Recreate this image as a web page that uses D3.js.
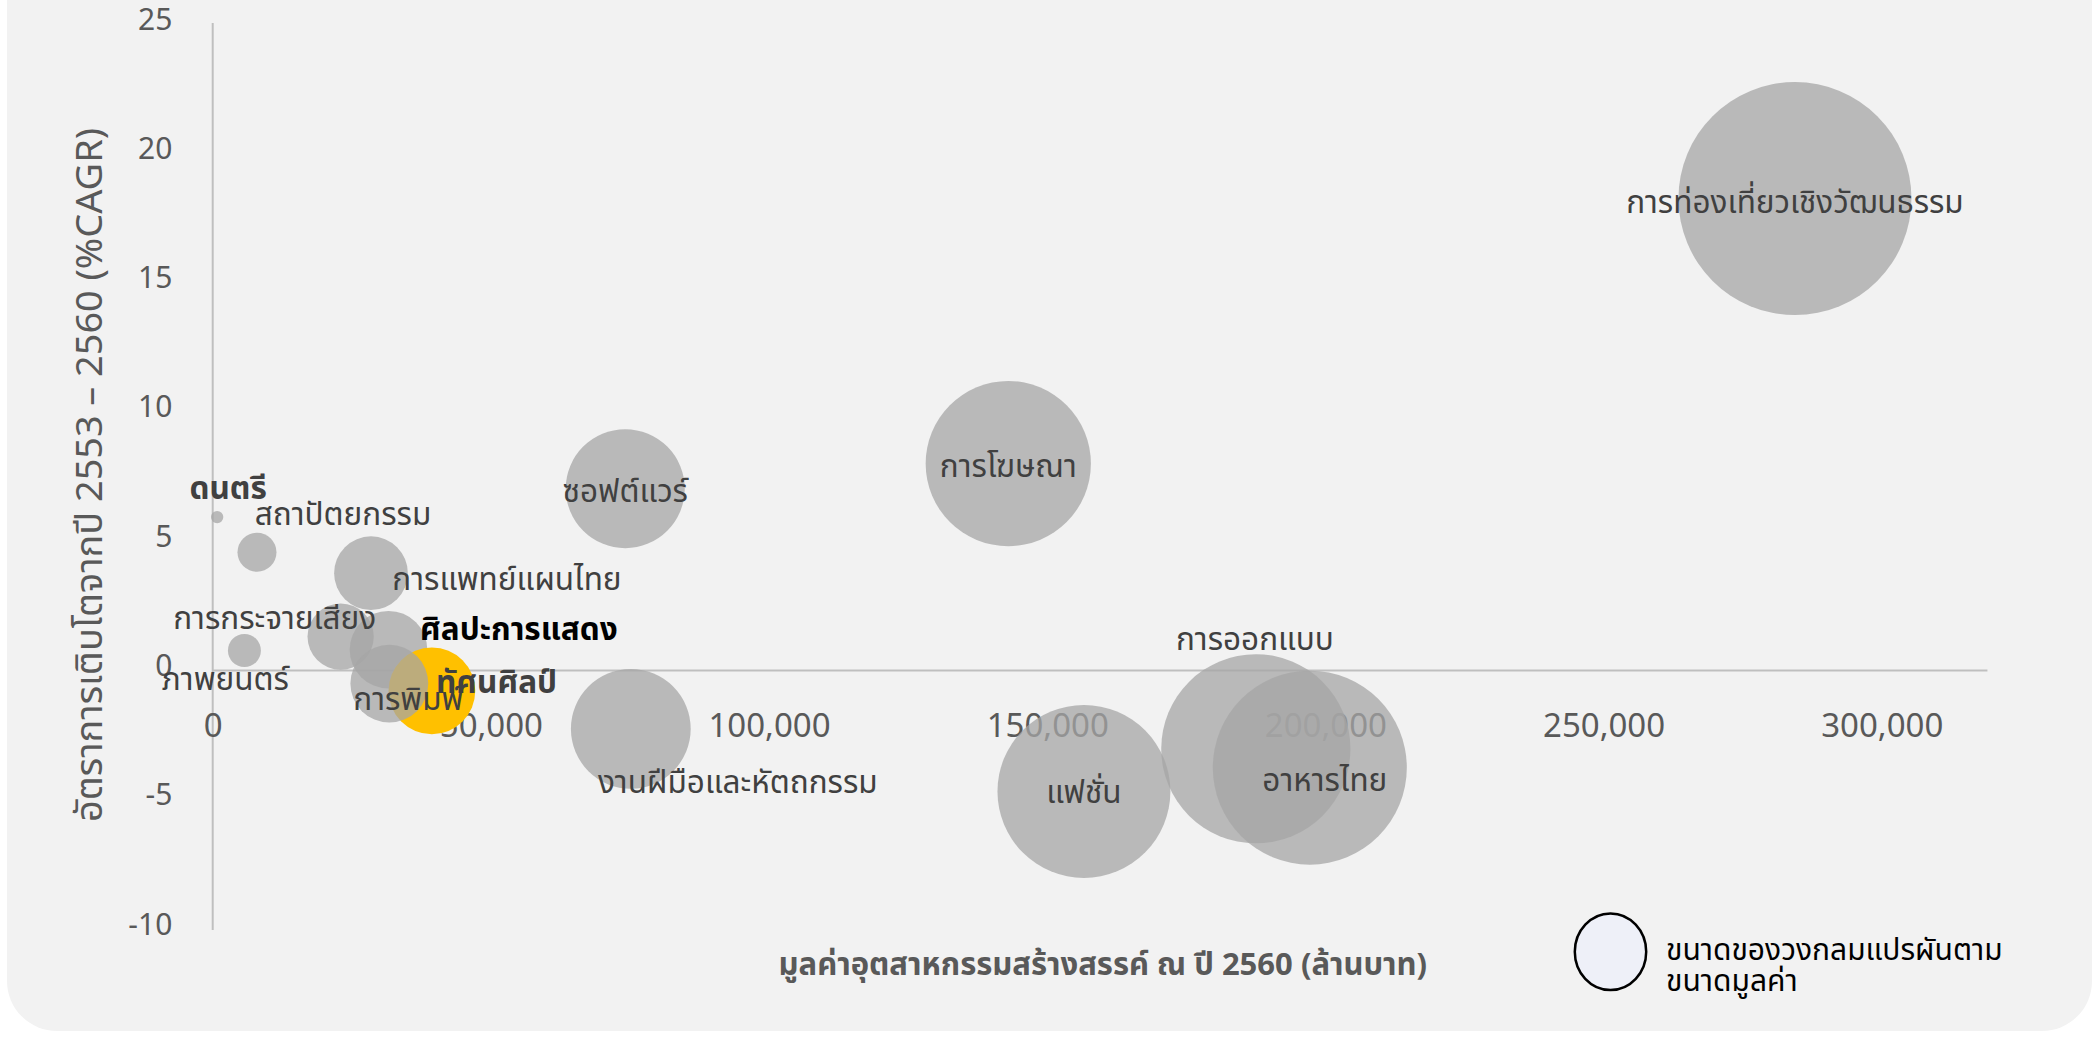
<!DOCTYPE html>
<html>
<head>
<meta charset="utf-8">
<script src="https://cdnjs.cloudflare.com/ajax/libs/d3/7.8.5/d3.min.js"></script>
<style>
  body { margin: 0; background: #ffffff; }
  svg { display: block; }
  text { font-family: "Noto Sans Thai", "Noto Sans Thai UI", "Leelawadee UI", "Sarabun", "Noto Sans", sans-serif; }
</style>
</head>
<body>
<svg id="chart"></svg>
<script>
// sectors (drawing order = series order)
const sectors = ["ดนตรี", "สถาปัตยกรรม", "ภาพยนตร์", "การกระจายเสียง", "การแพทย์แผนไทย",
    "ทัศนศิลป์", "ศิลปะการแสดง", "การพิมพ์", "ซอฟต์แวร์", "งานฝีมือและหัตถกรรม",
    "การโฆษณา", "แฟชั่น", "การออกแบบ", "อาหารไทย", "การท่องเที่ยวเชิงวัฒนธรรม"];
// มูลค่าอุตสาหกรรมสร้างสรรค์ ปี 2560 (ล้านบาท) - x and bubble size
const values = [800, 7960, 5700, 23000, 28450,
    31600, 39400, 31750, 74150, 75150,
    143000, 156600, 187500, 197200, 284400];
// อัตราการเติบโต 2553-2560 (%CAGR)
const growth = [5.93, 4.57, 0.77, 1.31, 3.76,
    0.80, -0.79, -0.51, 7.03, -2.26,
    8.0, -4.68, -3.03, -3.76, 18.25];
const xTicks = [0, 50000, 100000, 150000, 200000, 250000, 300000];
const yTicks = [-10, -5, 0, 5, 10, 15, 20, 25];

const xTitle = "มูลค่าอุตสาหกรรมสร้างสรรค์ ณ ปี 2560 (ล้านบาท)";
const yTitle = "อัตราการเติบโตจากปี 2553 – 2560 (%CAGR)";
const legendLines = ["ขนาดของวงกลมแปรผันตาม", "ขนาดมูลค่า"];

// label styling (manual data label placement, offsets from bubble centre)
const highlight = "ศิลปะการแสดง";
const boldLabels = ["ดนตรี", "ศิลปะการแสดง", "ทัศนศิลป์"];
const labelOffset = [[11, -18], [86, -27], [-19, 39], [-66, -8], [136, 17],
    [108, 43], [87, -51], [19, 26], [0, 13], [107, 64],
    [0, 13], [0, 12], [-1, -99], [15, 23], [0, 14]];

const w = 2099;
const h = 1037;

const svg = d3.select("#chart")
    .attr("width", w)
    .attr("height", h);

//Panel background
svg.append("rect")
    .attr("x", 7).attr("y", -60)
    .attr("width", 2085).attr("height", 1091)
    .attr("rx", 50)
    .attr("fill", "#f2f2f2");

//Scales
var x = d3.scaleLinear()
    .domain([0, 320000])
    .range([212.7, 1993]);

var y = d3.scaleLinear()
    .domain([-10, 25])
    .range([929, 24]);

var r = d3.scaleSqrt()
    .domain([0, d3.max(values)])
    .range([0, 116.5]);

//Axis lines
svg.append("line")
    .attr("x1", x(0)).attr("x2", x(0))
    .attr("y1", y(25) - 1).attr("y2", y(-10) + 1)
    .attr("stroke", "#bfbfbf").attr("stroke-width", 2);

svg.append("line")
    .attr("x1", x(0)).attr("x2", x(319000))
    .attr("y1", y(0)).attr("y2", y(0))
    .attr("stroke", "#bfbfbf").attr("stroke-width", 2);

//X tick labels (placed low, below plot)
var xAxis = d3.axisBottom(x)
    .tickValues(xTicks)
    .tickSize(0)
    .tickFormat(d3.format(","));

var gx = svg.append("g")
    .attr("transform", "translate(0,737)")
    .call(xAxis);
gx.select(".domain").remove();
gx.selectAll("text")
    .attr("y", 0).attr("dy", 0)
    .attr("fill", "#595959")
    .style("font-size", "33px")
    .style("font-family", "'Noto Sans', sans-serif");

//Y tick labels
var yAxis = d3.axisLeft(y)
    .tickValues(yTicks)
    .tickSize(0)
    .tickFormat(d => String(d));

var gy = svg.append("g")
    .attr("transform", "translate(172.3,0)")
    .call(yAxis);
gy.select(".domain").remove();
gy.selectAll("text")
    .attr("x", 0).attr("dy", 5)
    .attr("fill", "#595959")
    .style("font-size", "30px")
    .style("font-family", "'Noto Sans', sans-serif");

//Bubbles
svg.selectAll("circle.bubble")
    .data(sectors)
    .join("circle")
    .attr("class", "bubble")
    .attr("cx", (d, i) => x(values[i]))
    .attr("cy", (d, i) => y(growth[i]))
    .attr("r", (d, i) => r(values[i]))
    .attr("fill", d => d === highlight ? "#ffc000" : "#a5a5a5")
    .attr("fill-opacity", d => d === highlight ? 1 : 0.75);

//Data labels
svg.selectAll("text.dlabel")
    .data(sectors)
    .join("text")
    .attr("class", "dlabel")
    .attr("x", (d, i) => x(values[i]) + labelOffset[i][0])
    .attr("y", (d, i) => y(growth[i]) + labelOffset[i][1])
    .attr("text-anchor", "middle")
    .attr("fill", d => d === highlight ? "#000000" : "#404040")
    .style("font-weight", d => boldLabels.includes(d) ? "bold" : "normal")
    .style("font-size", "31.5px")
    .text(d => d);

//X title
svg.append("text")
    .attr("x", (x(0) + x(320000)) / 2)
    .attr("y", 975)
    .attr("text-anchor", "middle")
    .attr("fill", "#595959")
    .style("font-weight", "bold")
    .style("font-size", "31px")
    .text(xTitle);

//Y title
svg.append("text")
    .attr("transform", "translate(102,475) rotate(-90)")
    .attr("text-anchor", "middle")
    .attr("fill", "#595959")
    .attr("textLength", 694)
    .attr("lengthAdjust", "spacingAndGlyphs")
    .style("font-size", "37px")
    .text(yTitle);

//Legend
svg.append("ellipse")
    .attr("cx", 1610.5).attr("cy", 951.7)
    .attr("rx", 35.7).attr("ry", 38.3)
    .attr("fill", "#eef0f8")
    .attr("stroke", "#000").attr("stroke-width", 2.5);

svg.selectAll("text.legend")
    .data(legendLines)
    .join("text")
    .attr("class", "legend")
    .attr("x", 1666)
    .attr("y", (d, i) => 960 + i * 31)
    .attr("fill", "#000")
    .style("font-size", "30px")
    .text(d => d);
</script>
</body>
</html>
